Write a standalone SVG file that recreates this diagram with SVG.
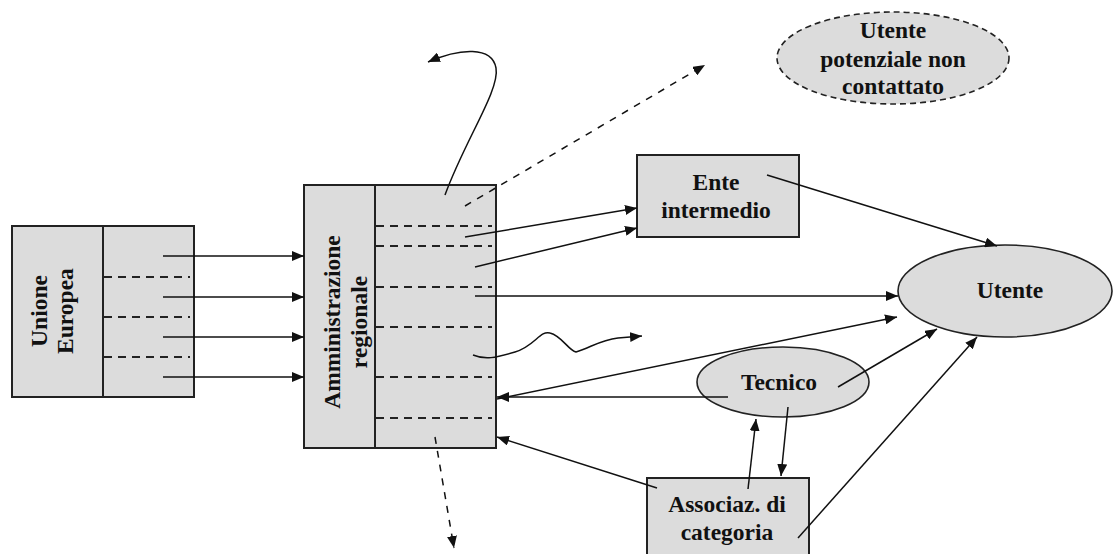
<svg xmlns="http://www.w3.org/2000/svg" width="1119" height="554" viewBox="0 0 1119 554">
<defs>
<style>
.box{fill:#dcdcdc;stroke:#222;stroke-width:2}
.div{fill:none;stroke:#222;stroke-width:2}
.dl{fill:none;stroke:#222;stroke-width:1.8;stroke-dasharray:8 6}
.c{fill:none;stroke:#111;stroke-width:1.5}
.cd{fill:none;stroke:#111;stroke-width:1.5;stroke-dasharray:7 7}
.t{font-family:"Liberation Serif","Times New Roman",serif;font-weight:bold;font-size:23.5px;fill:#111;text-anchor:middle}
</style>
<marker id="ah" viewBox="0 0 12 10" refX="12" refY="5" markerWidth="12" markerHeight="10" orient="auto" markerUnits="userSpaceOnUse">
<path d="M0,0 L12,5 L0,10 z" fill="#111"/>
</marker>
</defs>
<rect width="1119" height="554" fill="#fff"/>

<g id="unione-europea">
<rect class="box" x="12" y="226" width="182" height="171"/>
<line class="div" x1="103" y1="226" x2="103" y2="397"/>
<line class="dl" x1="104" y1="277" x2="190" y2="277"/>
<line class="dl" x1="104" y1="317" x2="190" y2="317"/>
<line class="dl" x1="104" y1="357" x2="190" y2="357"/>
<text class="t" transform="translate(47,311) rotate(-90)">Unione</text>
<text class="t" transform="translate(73,311) rotate(-90)">Europea</text>
</g>

<g id="amministrazione-regionale">
<rect class="box" x="304" y="185" width="192" height="263"/>
<line class="div" x1="375" y1="185" x2="375" y2="448"/>
<line class="dl" x1="376" y1="226" x2="492" y2="226"/>
<line class="dl" x1="376" y1="246" x2="492" y2="246"/>
<line class="dl" x1="376" y1="287" x2="492" y2="287"/>
<line class="dl" x1="376" y1="327" x2="492" y2="327"/>
<line class="dl" x1="376" y1="377" x2="492" y2="377"/>
<line class="dl" x1="376" y1="418" x2="492" y2="418"/>
<text class="t" transform="translate(340,322) rotate(-90)">Amministrazione</text>
<text class="t" transform="translate(367,322) rotate(-90)">regionale</text>
</g>

<g id="ente-intermedio">
<rect class="box" x="637" y="155" width="162" height="82"/>
<text class="t" x="716" y="190">Ente</text>
<text class="t" x="716" y="218">intermedio</text>
</g>

<g id="utente-potenziale">
<ellipse cx="893" cy="58" rx="116" ry="46" fill="#dcdcdc" stroke="#222" stroke-width="1.6" stroke-dasharray="6 4"/>
<text class="t" x="893" y="38">Utente</text>
<text class="t" x="893" y="67">potenziale non</text>
<text class="t" x="893" y="94">contattato</text>
</g>

<g id="utente">
<ellipse cx="1005" cy="291" rx="107" ry="46" fill="#dcdcdc" stroke="#222" stroke-width="1.6"/>
<text class="t" x="1010" y="298">Utente</text>
</g>

<g id="tecnico">
<ellipse cx="783" cy="382" rx="86" ry="35" fill="#dcdcdc" stroke="#222" stroke-width="1.6"/>
<text class="t" x="779" y="390">Tecnico</text>
</g>

<g id="associaz-categoria">
<rect class="box" x="647" y="478" width="162" height="84"/>
<text class="t" x="727" y="512">Associaz. di</text>
<text class="t" x="727" y="540">categoria</text>
</g>

<g id="connectors">
<line class="c" x1="163" y1="256" x2="304" y2="256" marker-end="url(#ah)"/>
<line class="c" x1="163" y1="297" x2="304" y2="297" marker-end="url(#ah)"/>
<line class="c" x1="163" y1="337" x2="304" y2="337" marker-end="url(#ah)"/>
<line class="c" x1="163" y1="377" x2="304" y2="377" marker-end="url(#ah)"/>
<path class="c" d="M445,195 C465,140 500,90 496,68 C492,46 460,48 428,62" marker-end="url(#ah)"/>
<line class="cd" x1="465" y1="206" x2="705" y2="65" marker-end="url(#ah)"/>
<line class="c" x1="465" y1="237" x2="637" y2="208" marker-end="url(#ah)"/>
<line class="c" x1="475" y1="267" x2="637" y2="228" marker-end="url(#ah)"/>
<line class="c" x1="475" y1="296" x2="898" y2="296" marker-end="url(#ah)"/>
<path class="c" d="M473,355 C485,360 495,358 515,352 C535,346 540,330 550,333 C562,336 568,350 576,352 C590,348 600,340 618,338 L642,336" marker-end="url(#ah)"/>
<line class="c" x1="728" y1="397" x2="497" y2="397" marker-end="url(#ah)"/>
<line class="c" x1="497" y1="399" x2="897" y2="317" marker-end="url(#ah)"/>
<line class="c" x1="838" y1="387" x2="937" y2="329" marker-end="url(#ah)"/>
<line class="c" x1="798" y1="538" x2="977" y2="337" marker-end="url(#ah)"/>
<line class="c" x1="748" y1="489" x2="756" y2="419" marker-end="url(#ah)"/>
<line class="c" x1="788" y1="407" x2="781" y2="476" marker-end="url(#ah)"/>
<line class="c" x1="657" y1="488" x2="497" y2="437" marker-end="url(#ah)"/>
<line class="cd" x1="435" y1="437" x2="454" y2="548" marker-end="url(#ah)"/>
<line class="c" x1="767" y1="175" x2="997" y2="246" marker-end="url(#ah)"/>
</g>
</svg>
